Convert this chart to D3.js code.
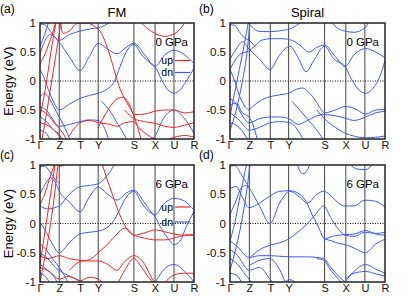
<!DOCTYPE html>
<html>
<head>
<meta charset="utf-8">
<script src="https://cdn.jsdelivr.net/npm/d3@7"></script>
<style>
  body { margin: 0; background: #fff; }
  svg { font-family: "Liberation Sans", Arial, Helvetica, sans-serif; }
</style>
</head>
<body>
<div id="chart"></div>
<script>
// k-path (fraction of path length) and energy ticks
const kLabels = ["Γ", "Z", "T", "Y", "S", "X", "U", "R"];
const kTicks = [0, 0.125, 0.26, 0.378, 0.61, 0.747, 0.87, 1];
const eTicks = [-1, -0.5, 0, 0.5, 1];
const eTickLabels = ["-1", "-0.5", "0", "0.5", "1"];
const panelTags = ["(a)", "(b)", "(c)", "(d)"];
const panelTitles = ["FM", "Spiral", "", ""];
const pressures = ["0 GPa", "0 GPa", "6 GPa", "6 GPa"];
const spinNames = ["up", "dn"];

// bands as [k, E(eV)]
// (a) FM, 0 GPa
const aUp = [
  [[0,0.3],[0.03,0.45],[0.06,0.66],[0.09,0.9],[0.105,1.05]],
  [[0,-0.62],[0.02,-0.35],[0.04,-0.05],[0.06,0.3],[0.08,0.65],[0.1,0.95],[0.11,1.05]],
  [[0.01,-1.05],[0.04,-0.6],[0.07,-0.1],[0.1,0.4],[0.13,0.9],[0.14,1.05]],
  [[0.13,1.05],[0.15,0.82],[0.19,0.86],[0.24,0.99],[0.3,1.0],[0.36,0.93],[0.4,0.82],[0.44,0.55],[0.47,0.3],[0.5,0.02],[0.53,-0.2],[0.57,-0.4],[0.61,-0.6],[0.64,-0.85],[0.66,-1.05]],
  [[0.378,-0.8],[0.43,-0.55],[0.49,-0.33],[0.54,-0.28],[0.58,-0.4],[0.61,-0.58],[0.68,-0.57],[0.747,-0.52],[0.81,-0.5],[0.87,-0.5],[0.94,-0.55],[1,-0.53]],
  [[0.55,-0.5],[0.61,-0.65],[0.68,-0.7],[0.747,-0.73],[0.81,-0.78],[0.87,-0.8],[0.94,-0.76],[1,-0.72]],
  [[0.61,-0.7],[0.66,-0.85],[0.71,-0.95],[0.747,-1.0],[0.81,-1.02],[0.87,-0.97],[0.94,-0.94],[1,-0.97]],
  [[0.64,1.05],[0.7,0.9],[0.747,0.82],[0.81,0.77],[0.87,0.81],[0.92,0.93],[0.95,1.05]],
  [[0,-0.5],[0.05,-0.58],[0.1,-0.75],[0.125,-0.82],[0.16,-0.95],[0.18,-1.05]],
  [[0,-0.72],[0.06,-0.78],[0.125,-0.95],[0.15,-1.05]],
  [[0.19,-0.95],[0.26,-0.72],[0.32,-0.68],[0.378,-0.72],[0.44,-0.74],[0.5,-0.78],[0.55,-0.72],[0.61,-0.7]]
];
const aDn = [
  [[0,0.47],[0.03,0.68],[0.065,0.8],[0.1,0.75],[0.125,0.67],[0.19,0.42],[0.26,0.18],[0.32,0.42],[0.378,0.65],[0.44,0.55],[0.5,0.47],[0.56,0.58],[0.61,0.65],[0.68,0.45],[0.747,0.25],[0.81,0.45],[0.87,0.53],[0.94,0.45],[1,0.3]],
  [[0,0.98],[0.03,0.97],[0.07,0.85],[0.1,0.74],[0.125,0.7],[0.19,0.8],[0.26,0.86],[0.33,0.9],[0.378,0.92],[0.43,0.97],[0.47,1.05]],
  [[0,0.19],[0.02,0.1],[0.04,-0.05],[0.07,-0.25],[0.1,-0.42],[0.125,-0.5],[0.19,-0.4],[0.26,-0.3],[0.32,-0.25],[0.378,-0.21],[0.43,-0.15],[0.48,-0.02],[0.52,0.25],[0.56,0.5],[0.61,0.63],[0.66,0.45],[0.71,0.32],[0.747,0.25],[0.79,0.02],[0.83,-0.15],[0.87,-0.21],[0.91,-0.15],[0.95,0.0],[1,0.22]],
  [[0,-0.27],[0.03,-0.22],[0.06,-0.3],[0.1,-0.5],[0.125,-0.62],[0.16,-0.8],[0.2,-1.05]],
  [[0,-0.45],[0.04,-0.5],[0.08,-0.65],[0.125,-0.78],[0.19,-0.75],[0.26,-0.7],[0.32,-0.67],[0.378,-0.68],[0.42,-0.82],[0.45,-1.05]],
  [[0,-0.62],[0.05,-0.72],[0.09,-0.85],[0.125,-0.92],[0.15,-1.05]],
  [[0,-0.85],[0.04,-0.9],[0.07,-1.05]],
  [[0.4,-0.35],[0.455,-0.52],[0.5,-0.72],[0.552,-0.95],[0.57,-1.05]],
  [[0.7,-1.05],[0.747,-0.95],[0.8,-0.65],[0.87,-0.5],[0.93,-0.62],[1,-0.9]],
  [[0,0.6],[0.03,0.8],[0.06,1.05]]
];
// (b) Spiral, 0 GPa
const bDn = [
  [[0.1,1.05],[0.13,0.97],[0.18,0.86],[0.258,0.85],[0.33,0.87],[0.387,0.9],[0.44,0.98],[0.47,1.05]],
  [[0,0.2],[0.06,0.45],[0.12,0.52],[0.16,0.6],[0.2,0.7],[0.27,0.73],[0.33,0.73],[0.4,0.7],[0.45,0.62],[0.51,0.5],[0.56,0.58],[0.609,0.62],[0.68,0.42],[0.742,0.25],[0.8,0.45],[0.875,0.56],[0.94,0.5],[1,0.4]],
  [[0,0.38],[0.04,0.55],[0.08,0.68],[0.123,0.55],[0.19,0.38],[0.258,0.2],[0.32,0.45],[0.387,0.6],[0.44,0.4],[0.49,0.16],[0.54,0.35],[0.609,0.6],[0.67,0.38],[0.742,0.25],[0.78,0.05],[0.82,-0.12],[0.875,-0.21],[0.93,-0.1],[0.97,0.1],[1,0.35]],
  [[0.64,1.05],[0.7,0.9],[0.742,0.86],[0.8,0.84],[0.875,0.93],[0.9,1.05]],
  [[0.123,-0.5],[0.19,-0.35],[0.258,-0.27],[0.32,-0.24],[0.387,-0.2],[0.43,-0.14],[0.47,-0.12],[0.51,-0.2],[0.55,-0.33],[0.59,-0.5],[0.609,-0.55],[0.68,-0.5],[0.742,-0.44],[0.8,-0.47],[0.875,-0.57],[0.94,-0.5],[1,-0.49]],
  [[0,-0.3],[0.04,-0.4],[0.08,-0.6],[0.123,-0.72],[0.19,-0.65],[0.258,-0.62],[0.32,-0.62],[0.387,-0.66],[0.44,-0.75],[0.5,-0.68],[0.56,-0.6],[0.609,-0.58],[0.68,-0.6],[0.742,-0.64],[0.8,-0.68],[0.875,-0.62],[0.94,-0.55],[1,-0.52]],
  [[0.56,-0.5],[0.609,-0.65],[0.68,-0.8],[0.742,-0.9],[0.8,-0.95],[0.875,-0.98],[0.94,-0.97],[1,-0.95]],
  [[0,-0.55],[0.05,-0.65],[0.1,-0.8],[0.123,-0.85],[0.19,-0.8],[0.258,-0.72],[0.32,-0.7],[0.387,-0.72],[0.45,-0.9],[0.48,-1.05]],
  [[0.4,-0.35],[0.45,-0.5],[0.52,-0.72],[0.58,-0.92],[0.61,-1.05]],
  [[0,0.97],[0.03,0.96],[0.06,0.85],[0.09,0.75],[0.123,0.7],[0.16,0.6]],
  [[0,0.2],[0.03,0.0],[0.06,-0.25],[0.1,-0.45],[0.123,-0.5]],
  [[0,-0.6],[0.03,-0.2],[0.06,0.2],[0.09,0.6],[0.12,1.05]],
  [[0,-0.85],[0.04,-0.5],[0.08,0.0],[0.11,0.5],[0.13,1.05]],
  [[0,-0.72],[0.05,-0.78],[0.1,-0.95],[0.12,-1.05]],
  [[0,-0.42],[0.04,-0.38],[0.08,-0.55],[0.123,-0.62],[0.16,-0.85],[0.18,-1.05]]
];
// (c) FM, 6 GPa
const cUp = [
  [[0,0.32],[0.03,0.5],[0.06,0.75],[0.085,0.95],[0.095,1.05]],
  [[0,-0.7],[0.02,-0.35],[0.04,0.0],[0.06,0.35],[0.08,0.7],[0.1,1.05]],
  [[0,-1.0],[0.03,-0.6],[0.06,-0.15],[0.09,0.4],[0.11,0.85],[0.12,1.05]],
  [[0.11,1.02],[0.125,0.98],[0.15,0.99],[0.18,1.05]],
  [[0.4,1.05],[0.43,0.8],[0.47,0.5],[0.51,0.2],[0.545,0.0],[0.58,-0.15],[0.61,-0.2],[0.68,-0.25],[0.747,-0.28],[0.81,-0.28],[0.87,-0.25],[0.94,-0.2],[1,-0.19]],
  [[0.19,-0.8],[0.26,-0.65],[0.32,-0.62],[0.378,-0.5],[0.44,-0.35],[0.5,-0.18],[0.55,-0.08],[0.58,-0.12],[0.61,-0.2],[0.68,-0.16],[0.747,-0.11],[0.81,-0.14],[0.87,-0.18],[0.94,-0.2],[1,-0.2]],
  [[0,-0.55],[0.05,-0.6],[0.125,-0.55],[0.19,-0.6],[0.26,-0.63],[0.32,-0.64],[0.378,-0.64],[0.44,-0.7],[0.5,-0.8],[0.55,-0.65],[0.61,-0.55],[0.68,-0.7],[0.72,-0.9],[0.75,-1.05]],
  [[0.5,-1.05],[0.55,-0.8],[0.61,-0.6],[0.66,-0.75],[0.7,-0.9],[0.747,-1.05]],
  [[0.8,-1.05],[0.87,-0.88],[0.94,-0.85],[1,-0.85]],
  [[0,-0.75],[0.06,-0.82],[0.125,-0.95],[0.19,-0.9],[0.26,-0.98],[0.32,-0.92],[0.378,-0.95],[0.42,-1.05]]
];
const cDn = [
  [[0,0.5],[0.04,0.7],[0.07,0.78],[0.1,0.7],[0.125,0.55],[0.19,0.37],[0.26,0.2],[0.32,0.45],[0.378,0.62],[0.44,0.5],[0.5,0.4],[0.56,0.52],[0.61,0.57],[0.68,0.35],[0.747,0.15],[0.81,0.35],[0.87,0.43],[0.94,0.38],[1,0.23]],
  [[0,0.3],[0.05,0.25],[0.125,0.3],[0.19,0.5],[0.26,0.63],[0.32,0.65],[0.378,0.68],[0.43,0.8],[0.47,0.95],[0.49,1.05]],
  [[0,0.02],[0.03,-0.1],[0.07,-0.3],[0.125,-0.5],[0.19,-0.33],[0.26,-0.18],[0.32,-0.15],[0.378,-0.13],[0.43,-0.08],[0.48,0.05],[0.52,0.25],[0.56,0.45],[0.61,0.55],[0.66,0.35],[0.7,0.22],[0.747,0.12],[0.78,-0.05],[0.83,-0.25],[0.87,-0.36],[0.91,-0.3],[0.95,-0.05],[1,0.2]],
  [[0,-0.35],[0.04,-0.45],[0.08,-0.6],[0.125,-0.75],[0.16,-0.9],[0.19,-1.05]],
  [[0,-0.5],[0.05,-0.6],[0.1,-0.75],[0.125,-0.8],[0.19,-0.9],[0.26,-0.98],[0.3,-1.05]],
  [[0,-0.7],[0.05,-0.8],[0.1,-0.95],[0.12,-1.05]],
  [[0,-0.85],[0.04,-0.92],[0.07,-1.05]],
  [[0.74,-1.05],[0.8,-0.8],[0.87,-0.7],[0.94,-0.82],[1,-1.0]],
  [[0,0.97],[0.03,0.98],[0.06,0.9],[0.1,0.75],[0.125,0.68]]
];
// (d) Spiral, 6 GPa
const dDn = [
  [[0,0.15],[0.04,0.4],[0.07,0.6],[0.1,0.65],[0.123,0.6],[0.19,0.3],[0.258,0.0],[0.32,0.35],[0.387,0.55],[0.45,0.45],[0.5,0.35],[0.56,0.5],[0.605,0.55],[0.66,0.45],[0.7,0.35],[0.742,0.3],[0.8,0.3],[0.87,0.4],[0.94,0.38],[1,0.28]],
  [[0,0.6],[0.04,0.63],[0.08,0.45],[0.123,0.27],[0.19,0.35],[0.258,0.47],[0.32,0.55],[0.387,0.56],[0.45,0.5],[0.49,0.38],[0.53,0.15],[0.56,0.0],[0.58,-0.12],[0.605,-0.25],[0.66,-0.3],[0.7,-0.34],[0.742,-0.36],[0.8,-0.42],[0.875,-0.5],[0.94,-0.35],[1,-0.27]],
  [[0.123,-0.6],[0.19,-0.45],[0.258,-0.37],[0.32,-0.33],[0.387,-0.25],[0.45,-0.12],[0.5,0.0],[0.55,0.15],[0.605,0.3],[0.65,0.1],[0.7,-0.1],[0.742,-0.2],[0.8,-0.22],[0.87,-0.15],[0.94,-0.17],[1,-0.15]],
  [[0.605,-0.28],[0.66,-0.22],[0.742,-0.19],[0.8,-0.18],[0.875,-0.12],[0.94,-0.18],[1,-0.2]],
  [[0,-0.3],[0.05,-0.4],[0.1,-0.55],[0.123,-0.58],[0.19,-0.55],[0.258,-0.55],[0.32,-0.56],[0.387,-0.57],[0.45,-0.57],[0.5,-0.57],[0.56,-0.58],[0.605,-0.6],[0.65,-0.75],[0.7,-0.9],[0.742,-1.0],[0.78,-1.05]],
  [[0.56,-0.6],[0.605,-0.63],[0.65,-0.8],[0.7,-0.95],[0.73,-1.05]],
  [[0.742,-1.0],[0.8,-0.82],[0.875,-0.7],[0.94,-0.78],[1,-0.85]],
  [[0.742,-0.95],[0.8,-0.85],[0.875,-0.82],[0.94,-0.86],[1,-0.9]],
  [[0.43,1.05],[0.45,0.9],[0.47,0.85],[0.5,0.92],[0.52,1.05]],
  [[0.77,1.02],[0.82,0.93],[0.875,0.92],[0.92,1.02]],
  [[0,0.98],[0.03,0.99],[0.07,0.85],[0.1,0.72],[0.123,0.62]],
  [[0,-0.3],[0.03,0.0],[0.06,0.4],[0.09,0.8],[0.11,1.05]],
  [[0,-0.8],[0.04,-0.4],[0.08,0.1],[0.11,0.6],[0.13,1.0],[0.135,1.05]],
  [[0,-0.45],[0.05,-0.55],[0.1,-0.75],[0.123,-0.8],[0.19,-0.75],[0.258,-0.95],[0.29,-1.05]],
  [[0,-0.6],[0.05,-0.7],[0.1,-0.88],[0.123,-0.95],[0.15,-1.05]],
  [[0,-0.85],[0.05,-0.9],[0.08,-1.05]],
  [[0.123,-0.72],[0.19,-0.63],[0.258,-0.6],[0.3,-0.7],[0.34,-0.9],[0.36,-1.05]],
  [[0.33,-1.05],[0.387,-0.96],[0.44,-1.05]]
];

const RED = "#f02424", BLUE = "#3b5cf2";
const W = 415, H = 297;

// panel boxes (pixels)
const panels = [
  { x0: 40, x1: 194, y0: 23, y1: 139, tag: [0, 13], up: aUp, dn: aDn, legend: [60.5, 72.5] },
  { x0: 230, x1: 385, y0: 23, y1: 139, tag: [199, 13], up: [], dn: bDn },
  { x0: 40, x1: 194, y0: 165, y1: 282, tag: [0, 159], up: cUp, dn: cDn, legend: [207, 222] },
  { x0: 230, x1: 385, y0: 165, y1: 282, tag: [199, 159], up: [], dn: dDn }
];

const svg = d3.select("#chart").append("svg")
  .attr("width", W)
  .attr("height", H);

panels.forEach((p, i) => {
  const x = d3.scaleLinear().domain([0, 1]).range([p.x0, p.x1]);
  const y = d3.scaleLinear().domain([-1, 1]).range([p.y1, p.y0]);
  const g = svg.append("g");

  g.append("clipPath").attr("id", "clip" + i)
    .append("rect")
    .attr("x", p.x0).attr("y", p.y0)
    .attr("width", p.x1 - p.x0).attr("height", p.y1 - p.y0);

  // high-symmetry verticals
  g.selectAll(".kline").data(kTicks.slice(1, -1)).enter()
    .append("line")
    .attr("x1", d => x(d)).attr("x2", d => x(d))
    .attr("y1", p.y0).attr("y2", p.y1)
    .attr("stroke", "#555").attr("stroke-width", 1.1);

  // Fermi level
  g.append("line")
    .attr("x1", p.x0).attr("x2", p.x1)
    .attr("y1", y(0)).attr("y2", y(0))
    .attr("stroke", "#111").attr("stroke-width", 1)
    .attr("stroke-dasharray", "1,1.5");

  const line = d3.line()
    .x(d => x(d[0]))
    .y(d => y(d[1]))
    .curve(d3.curveMonotoneX);

  const bands = g.append("g").attr("clip-path", `url(#clip${i})`);
  bands.selectAll(".dn").data(p.dn).enter()
    .append("path")
    .attr("d", line)
    .attr("fill", "none")
    .attr("stroke", BLUE)
    .attr("stroke-width", 1);
  bands.selectAll(".up").data(p.up).enter()
    .append("path")
    .attr("d", line)
    .attr("fill", "none")
    .attr("stroke", RED)
    .attr("stroke-width", 1);

  // frame
  g.append("rect")
    .attr("x", p.x0).attr("y", p.y0)
    .attr("width", p.x1 - p.x0).attr("height", p.y1 - p.y0)
    .attr("fill", "none").attr("stroke", "#222").attr("stroke-width", 1.5);

  // axes
  g.append("g")
    .attr("transform", `translate(${p.x0},0)`)
    .call(d3.axisLeft(y).tickValues(eTicks)
      .tickFormat((d, j) => eTickLabels[j]).tickSize(0).tickPadding(4))
    .call(s => s.select(".domain").remove())
    .selectAll("text")
    .attr("font-size", 11.5).attr("fill", "#111")
    .attr("font-family", "Liberation Sans, Arial, sans-serif");

  g.append("g")
    .attr("transform", `translate(0,${p.y1})`)
    .call(d3.axisBottom(x).tickValues(kTicks)
      .tickFormat((d, j) => kLabels[j]).tickSize(0).tickPadding(2))
    .call(s => s.select(".domain").remove())
    .selectAll("text")
    .attr("font-size", 11).attr("fill", "#111")
    .attr("font-family", "Liberation Sans, Arial, sans-serif");

  if (i % 2 === 0) {
    g.append("text")
      .attr("transform", `translate(13,${(p.y0 + p.y1) / 2}) rotate(-90)`)
      .attr("text-anchor", "middle")
      .attr("font-size", 13)
      .text("Energy (eV)");
  }

  if (panelTitles[i]) {
    g.append("text")
      .attr("x", (p.x0 + p.x1) / 2).attr("y", p.y0 - 6)
      .attr("text-anchor", "middle")
      .attr("font-size", 13)
      .text(panelTitles[i]);
  }

  g.append("text")
    .attr("x", p.tag[0]).attr("y", p.tag[1])
    .attr("font-size", 12)
    .text(panelTags[i]);

  g.append("text")
    .attr("x", p.x1 - 6).attr("y", p.y0 + 23)
    .attr("text-anchor", "end")
    .attr("font-size", 11.5)
    .text(pressures[i]);

  if (p.legend) {
    const colors = [RED, BLUE];
    p.legend.forEach((ly, j) => {
      g.append("text")
        .attr("x", p.x1 - 21).attr("y", ly + 3.5)
        .attr("text-anchor", "end")
        .attr("font-size", 10.5)
        .text(spinNames[j]);
      g.append("line")
        .attr("x1", p.x1 - 19).attr("x2", p.x1 - 4)
        .attr("y1", ly).attr("y2", ly)
        .attr("stroke", colors[j]).attr("stroke-width", 1.2);
    });
  }
});
</script>
</body>
</html>
